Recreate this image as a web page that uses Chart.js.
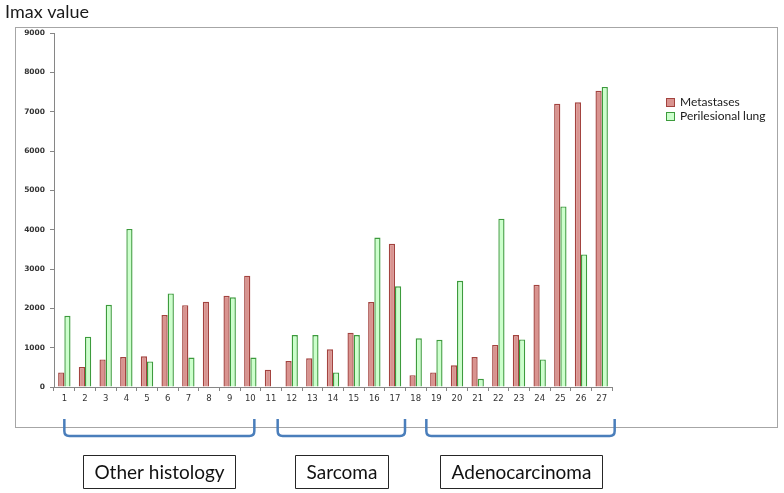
<!DOCTYPE html>
<html>
<head>
<meta charset="utf-8">
<script src="https://cdn.jsdelivr.net/npm/chart.js@4.4.1/dist/chart.umd.min.js"></script>
<style>
  html, body { margin: 0; padding: 0; background: #ffffff; }
  #wrap { width: 784px; height: 493px; }
</style>
</head>
<body>
<div id="wrap"><canvas id="c" width="784" height="493"></canvas></div>
<script>
// ---- data ----
const categories = ['1','2','3','4','5','6','7','8','9','10','11','12','13','14','15','16','17','18','19','20','21','22','23','24','25','26','27'];
const seriesNames = ['Metastases', 'Perilesional lung'];
const metastases = [370, 510, 700, 760, 780, 1830, 2080, 2170, 2320, 2830, 440, 660, 730, 960, 1380, 2160, 3640, 300, 370, 550, 760, 1070, 1320, 2600, 7200, 7240, 7530];
const perilesional = [1810, 1280, 2090, 4020, 650, 2380, 750, null, 2280, 750, null, 1320, 1320, 370, 1320, 3800, 2560, 1240, 1200, 2700, 210, 4280, 1210, 700, 4590, 3370, 7630];
const yMin = 0, yMax = 9000, yStep = 1000;
const chartTitle = 'Imax value';
const groupLabels = ['Other histology', 'Sarcoma', 'Adenocarcinoma'];
const groupFirst = ['1', '12', '19'];
const groupLast = ['10', '17', '27'];

// ---- styles ----
const RED_FILL = '#d9938f', RED_LINE = '#a3433f';
const GREEN_FILL = '#ccffcc', GREEN_LINE = '#3d9b3d';
const AXIS = '#868686';

const decorPlugin = {
  id: 'decor',
  beforeDraw(chart) {
    const ctx = chart.ctx;
    ctx.save();
    ctx.fillStyle = '#ffffff';
    ctx.fillRect(0, 0, chart.width, chart.height);
    // outer frame
    ctx.strokeStyle = '#a6a6a6';
    ctx.lineWidth = 1;
    ctx.strokeRect(15.5, 27.5, 762, 400);
    // title
    ctx.fillStyle = '#1a1a1a';
    ctx.font = '18px Lato';
    ctx.textBaseline = 'alphabetic';
    ctx.textAlign = 'left';
    ctx.fillText(chartTitle, 5, 18);
    ctx.restore();
  },
  afterDraw(chart) {
    const ctx = chart.ctx;
    const xs = chart.scales.x;
    ctx.save();
    // legend
    ctx.font = '12px Lato';
    ctx.textBaseline = 'middle';
    ctx.textAlign = 'left';
    chart.data.datasets.forEach((ds, i) => {
      const y = 98 + i * 14;
      ctx.fillStyle = ds.backgroundColor;
      ctx.strokeStyle = ds.borderColor;
      ctx.lineWidth = 1;
      ctx.fillRect(666.5, y + 0.5, 8, 8);
      ctx.strokeRect(666.5, y + 0.5, 8, 8);
      ctx.fillStyle = '#1a1a1a';
      ctx.fillText(ds.label, 680, y + 4.5);
    });
    // group brackets and boxes
    const offL = [0, -14, -10];
    const offR = [4, 10, 13];
    groupLabels.forEach((lab, g) => {
      const x1 = xs.getPixelForValue(categories.indexOf(groupFirst[g])) + offL[g];
      const x2 = xs.getPixelForValue(categories.indexOf(groupLast[g])) + offR[g];
      const yTop = 419, yBot = 436, r = 5;
      ctx.strokeStyle = '#4a7ebb';
      ctx.lineWidth = 2.5;
      ctx.lineJoin = 'round';
      ctx.beginPath();
      ctx.moveTo(x1, yTop);
      ctx.lineTo(x1, yBot - r);
      ctx.quadraticCurveTo(x1, yBot, x1 + r, yBot);
      ctx.lineTo(x2 - r, yBot);
      ctx.quadraticCurveTo(x2, yBot, x2, yBot - r);
      ctx.lineTo(x2, yTop);
      ctx.stroke();
      // label box
      ctx.font = '19px Lato';
      const tw = ctx.measureText(lab).width;
      const cx = (x1 + x2) / 2;
      const bw = Math.round(tw + 22);
      const bx = Math.round(cx - bw / 2) + 0.5;
      ctx.strokeStyle = '#262626';
      ctx.lineWidth = 1;
      ctx.strokeRect(bx, 455.5, bw, 33);
      ctx.fillStyle = '#111111';
      ctx.textAlign = 'center';
      ctx.textBaseline = 'alphabetic';
      ctx.fillText(lab, bx + bw / 2, 478.5);
    });
    ctx.restore();
  }
};

new Chart(document.getElementById('c'), {
  type: 'bar',
  data: {
    labels: categories,
    datasets: [
      { label: seriesNames[0], data: metastases, backgroundColor: RED_FILL, borderColor: RED_LINE, borderWidth: 1.4 },
      { label: seriesNames[1], data: perilesional, backgroundColor: GREEN_FILL, borderColor: GREEN_LINE, borderWidth: 1.4 }
    ]
  },
  options: {
    responsive: false,
    animation: false,
    devicePixelRatio: 1,
    barPercentage: 1.0,
    categoryPercentage: 0.6,
    layout: { padding: { left: 0, top: 33, right: 172, bottom: 86 } },
    plugins: {
      legend: { display: false },
      title: { display: false },
      tooltip: { enabled: false }
    },
    scales: {
      x: {
        offset: true,
        afterFit(scale) { scale.height = 20; },
        grid: { drawOnChartArea: false, drawTicks: true, tickLength: 4, color: AXIS, offset: true },
        border: { display: true, color: AXIS, width: 1 },
        ticks: { font: { family: 'DejaVu Sans', size: 8.5 }, color: '#333333', padding: 3, maxRotation: 0, autoSkip: false }
      },
      y: {
        min: yMin, max: yMax,
        afterFit(scale) { scale.width = 54; },
        grid: { drawOnChartArea: false, drawTicks: true, tickLength: 4, color: AXIS },
        border: { display: true, color: AXIS, width: 1 },
        ticks: { stepSize: yStep, callback: (v) => String(v), font: { family: 'DejaVu Sans', size: 7.5, weight: 'bold' }, color: '#333333', padding: 5 }
      }
    }
  },
  plugins: [decorPlugin]
});
</script>
</body>
</html>
